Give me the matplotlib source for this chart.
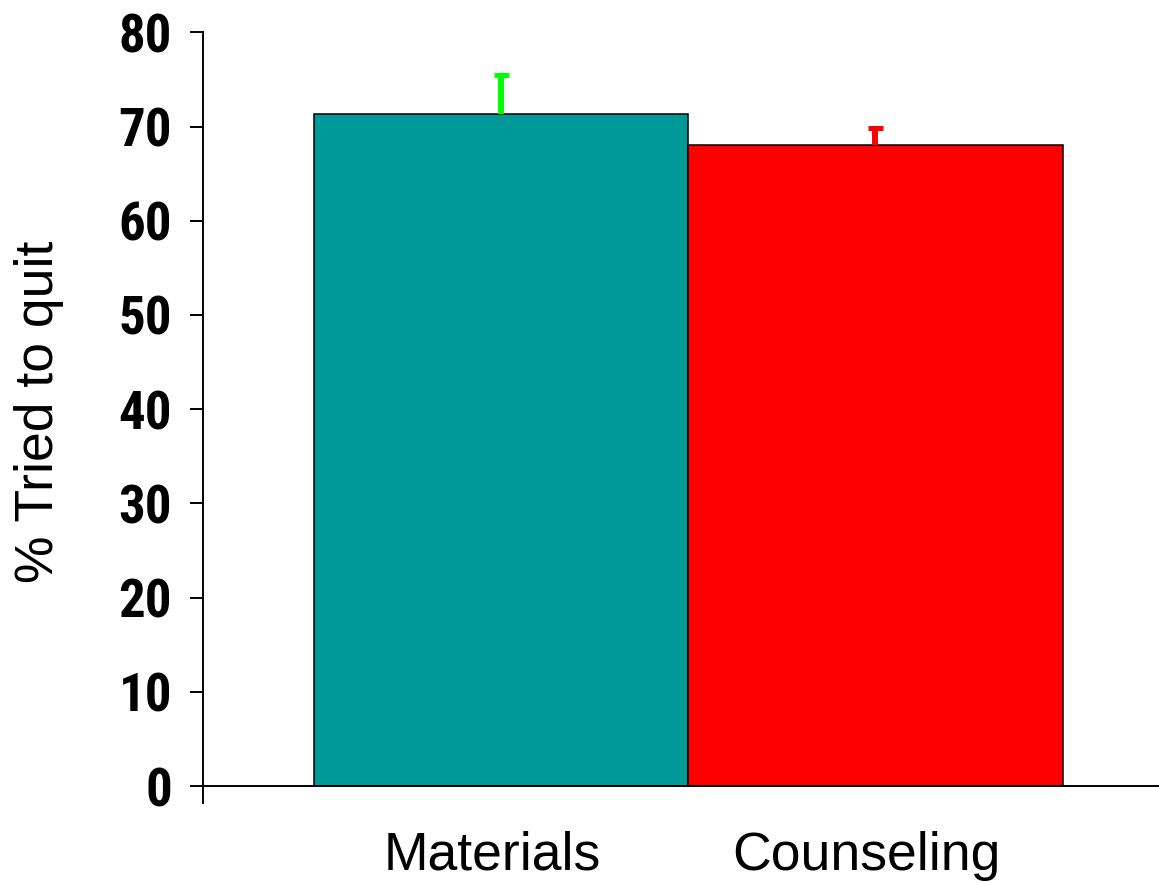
import matplotlib
matplotlib.use("Agg")
import matplotlib.pyplot as plt
import matplotlib.transforms as mtransforms
from matplotlib import font_manager

# data
groups = ["Materials", "Counseling"]
tried_quit = [71.3, 68.0]
err_up = [4.2, 1.8]
bar_colors = ["#009999", "#FF0000"]
err_colors = ["#00FF00", "#FF0000"]
yticks = [0, 10, 20, 30, 40, 50, 60, 70, 80]


def wt(f):
    w = f.weight
    if isinstance(w, int):
        return w
    return {"bold": 700, "semibold": 600, "heavy": 800, "black": 900}.get(str(w).lower(), 400)


# narrow bold face for the tick numbers (Arial Narrow Bold look)
tick_fp = None
for n in ["Liberation Sans Narrow", "Archivo Narrow", "Roboto Condensed", "Asap Condensed"]:
    hits = [f for f in font_manager.fontManager.ttflist
            if f.name == n and wt(f) == 700 and f.style == "normal"]
    if hits:
        tick_fp = font_manager.FontProperties(fname=hits[0].fname, size=38)
        break
if tick_fp is None:
    tick_fp = font_manager.FontProperties(family="Liberation Sans", weight="bold", size=38)

W, H = 1159, 882
fig = plt.figure(figsize=(W / 100, H / 100), dpi=100)
ax = fig.add_axes([203 / W, 1 - 803 / H, 1 - 203 / W, (803 - 32.3) / H])

x = [0, 1]
ax.bar(x, tried_quit, width=1.0, color=bar_colors, edgecolor="black",
       linewidth=1.1, zorder=3)
for i in range(len(x)):
    eb = ax.errorbar(x[i], tried_quit[i], yerr=[[0], [err_up[i]]], color=err_colors[i],
                     elinewidth=4.3, capsize=5.4, capthick=3.6, zorder=4)
    eb[1][0].set_visible(False)

ax.set_xlim(-0.798, 1.758)
ax.set_ylim(-1.8, 80)
ax.axhline(0, color="black", linewidth=1.4, zorder=5)

for s in ["top", "right", "bottom"]:
    ax.spines[s].set_visible(False)
ax.spines["left"].set_linewidth(1.4)

ax.set_yticks(yticks)
ax.set_yticklabels([str(v) for v in yticks], fontproperties=tick_fp)
ax.tick_params(axis="y", length=9.4, width=1.4, pad=13)

ax.set_xticks(x)
ax.set_xticklabels(groups, fontsize=38.5, family="Liberation Sans")
ax.tick_params(axis="x", length=0, pad=20)
off = mtransforms.ScaledTranslation(-0.09, 0, fig.dpi_scale_trans)
for lab in ax.get_xticklabels():
    lab.set_transform(lab.get_transform() + off)

ax.set_ylabel("% Tried to quit", fontsize=38.5, family="Liberation Sans")
ax.yaxis.set_label_coords((64 - 203) / (W - 203), (803 - 412) / (803 - 32.3))

fig.savefig("out.png", dpi=100)
